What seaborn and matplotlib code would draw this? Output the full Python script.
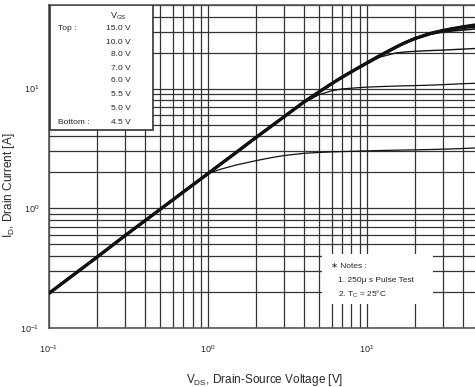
import matplotlib
matplotlib.use("Agg")
import matplotlib.pyplot as plt
from matplotlib.patches import Rectangle
from matplotlib.ticker import LogLocator, NullFormatter, FixedLocator
import numpy as np
import pandas as pd
import seaborn as sns

# ---- data ----
vds = [0.1, 0.2, 0.3, 0.5, 0.7, 1.0, 1.2, 1.5, 2.0, 2.5, 3.0, 4.0, 5.0, 6.0, 7.0, 8.5,
       10, 12, 15, 17, 20, 25, 30, 35, 40, 50]
id_15v0 = [0.195, 0.39, 0.59, 0.98, 1.37, 1.95, 2.34, 2.92, 3.9, 4.85, 5.8, 7.7, 9.4, 11.0, 12.5, 14.5,
           16.4, 18.8, 22.0, 23.9, 26.2, 28.9, 30.6, 31.8, 32.8, 34.3]
id_10v0 = [0.195, 0.39, 0.59, 0.98, 1.37, 1.95, 2.34, 2.92, 3.9, 4.85, 5.8, 7.7, 9.4, 11.0, 12.5, 14.5,
           16.4, 18.8, 22.0, 23.9, 26.2, 28.9, 30.6, 31.8, 32.7, 34.1]
id_8v0 = [0.195, 0.39, 0.59, 0.98, 1.37, 1.95, 2.34, 2.92, 3.9, 4.85, 5.8, 7.7, 9.4, 11.0, 12.5, 14.5,
          16.4, 18.8, 22.0, 23.9, 26.2, 28.9, 30.5, 31.6, 32.4, 33.6]
id_7v0 = [0.195, 0.39, 0.59, 0.98, 1.37, 1.95, 2.34, 2.92, 3.9, 4.85, 5.8, 7.7, 9.4, 11.0, 12.5, 14.5,
          16.4, 18.8, 22.0, 23.9, 26.2, 28.8, 30.3, 31.3, 32.0, 33.0]
id_6v0 = [0.195, 0.39, 0.59, 0.98, 1.37, 1.95, 2.34, 2.92, 3.9, 4.85, 5.8, 7.7, 9.4, 11.0, 12.5, 14.5,
          16.4, 18.8, 21.9, 23.7, 25.9, 28.4, 29.7, 30.4, 30.9, 31.7]
id_5v5 = [0.195, 0.39, 0.59, 0.98, 1.37, 1.95, 2.34, 2.92, 3.9, 4.85, 5.8, 7.7, 9.4, 11.0, 12.5, 14.4,
          16.1, 18.3, 19.8, 20.2, 20.5, 20.8, 21.0, 21.2, 21.4, 21.7]
id_5v0 = [0.195, 0.39, 0.59, 0.98, 1.37, 1.95, 2.34, 2.92, 3.9, 4.85, 5.8, 7.6, 8.9, 9.6, 9.95, 10.15,
          10.3, 10.4, 10.5, 10.55, 10.6, 10.7, 10.8, 10.9, 11.0, 11.1]
id_4v5 = [0.195, 0.39, 0.59, 0.98, 1.37, 1.95, 2.12, 2.3, 2.5, 2.65, 2.76, 2.88, 2.93, 2.96, 2.98, 3.0,
          3.02, 3.04, 3.06, 3.07, 3.08, 3.1, 3.12, 3.14, 3.16, 3.2]

vgs_labels = ["15.0 V", "10.0 V", "8.0 V", "7.0 V", "6.0 V", "5.5 V", "5.0 V", "4.5 V"]
series = [id_15v0, id_10v0, id_8v0, id_7v0, id_6v0, id_5v5, id_5v0, id_4v5]
line_widths = [2.4, 1.9, 1.6, 1.4, 1.2, 1.0, 0.9, 0.9]

x_ticks = [0.1, 1, 10]
x_tick_labels = [r"$10^{-1}$", r"$10^{0}$", r"$10^{1}$"]
y_ticks = [0.1, 1, 10]
y_tick_labels = [r"$10^{-1}$", r"$10^{0}$", r"$10^{1}$"]

df = pd.DataFrame({
    "VDS": np.tile(vds, len(series)),
    "ID": np.concatenate(series),
    "VGS": np.repeat(vgs_labels, len(vds)),
})

# ---- style ----
sns.set_style("white")
plt.rcParams["font.family"] = ["Liberation Sans", "DejaVu Sans"]
plt.rcParams["mathtext.fontset"] = "custom"
plt.rcParams["mathtext.rm"] = "Liberation Sans"
plt.rcParams["mathtext.it"] = "Liberation Sans"

W, H = 475, 387
fig = plt.figure(figsize=(W / 100, H / 100), dpi=100)
L, R, T, B = 49, 478, 5, 328
ax = fig.add_axes([L / W, (H - B) / H, (R - L) / W, (B - T) / H])

sns.lineplot(data=df, x="VDS", y="ID", hue="VGS", size="VGS",
             sizes=dict(zip(vgs_labels, line_widths)),
             palette={k: "#111111" for k in vgs_labels},
             legend=False, ax=ax, zorder=4, estimator=None, sort=False)

ax.set_xscale("log")
ax.set_yscale("log")
ax.set_xlim(0.1, 50)
ax.set_ylim(0.1, 50)

ax.xaxis.set_major_locator(FixedLocator(x_ticks))
ax.yaxis.set_major_locator(FixedLocator(y_ticks))
ax.set_xticklabels(x_tick_labels)
ax.set_yticklabels(y_tick_labels)
ax.xaxis.set_minor_locator(LogLocator(base=10, subs=np.arange(2, 10)))
ax.yaxis.set_minor_locator(LogLocator(base=10, subs=np.arange(2, 10)))
ax.xaxis.set_minor_formatter(NullFormatter())
ax.yaxis.set_minor_formatter(NullFormatter())
ax.tick_params(which="both", length=0)
ax.tick_params(axis="x", labelsize=6.5, pad=11)
ax.tick_params(axis="y", labelsize=6.5, pad=7)

ax.grid(True, which="both", color="#333333", linewidth=0.9)
ax.set_axisbelow(True)
for s in ["left", "bottom", "top"]:
    ax.spines[s].set_color("#555555")
    ax.spines[s].set_linewidth(1.2)
ax.spines["right"].set_visible(False)

ax.set_xlabel(r"V$_{DS}$, Drain-Source Voltage [V]", fontsize=8.5)
ax.set_ylabel(r"I$_D$, Drain Current [A]", fontsize=8.5)
ax.xaxis.set_label_coords((265 - L) / (R - L), -(372 - B) / (B - T))
ax.yaxis.set_label_coords(-(L - 17) / (R - L), (B - 185) / (B - T))

def ax_xy(px, py):
    return (px - L) / (R - L), (B - py) / (B - T)

# legend box
x0, y0 = ax_xy(50, 130)
x1, y1 = ax_xy(153, 5)
ax.add_patch(Rectangle((x0, y0), x1 - x0, y1 - y0, transform=ax.transAxes,
                       facecolor="white", edgecolor="#333333", linewidth=1.2, zorder=5))
hx, hy = ax_xy(118, 16)
ax.text(hx, hy, r"V$_{GS}$", transform=ax.transAxes, fontsize=6.5, ha="center", va="center", zorder=6)
rows_y = [28, 42, 55, 68, 81, 94, 108, 122]
for lab, py in zip(vgs_labels, rows_y):
    tx, ty = ax_xy(131, py)
    ax.text(tx, ty, lab, transform=ax.transAxes, fontsize=6, ha="right", va="center", zorder=6)
tx, ty = ax_xy(58, 28)
ax.text(tx, ty, "Top :", transform=ax.transAxes, fontsize=6, ha="left", va="center", zorder=6)
tx, ty = ax_xy(58, 122)
ax.text(tx, ty, "Bottom :", transform=ax.transAxes, fontsize=6, ha="left", va="center", zorder=6)

# notes box
x0, y0 = ax_xy(322, 304)
x1, y1 = ax_xy(433, 254)
ax.add_patch(Rectangle((x0, y0), x1 - x0, y1 - y0, transform=ax.transAxes,
                       facecolor="white", edgecolor="none", zorder=5))
notes = [("\u2217 Notes :", 331, 266), ("1. 250\u03bc s Pulse Test", 338, 281), (r"2. T$_C$ = 25$\degree$C", 338, 294)]
for txt, px, py in notes:
    tx, ty = ax_xy(px, py)
    ax.text(tx, ty, txt, transform=ax.transAxes, fontsize=6, ha="left", va="center", zorder=6)

fig.savefig("out.png", dpi=100)
